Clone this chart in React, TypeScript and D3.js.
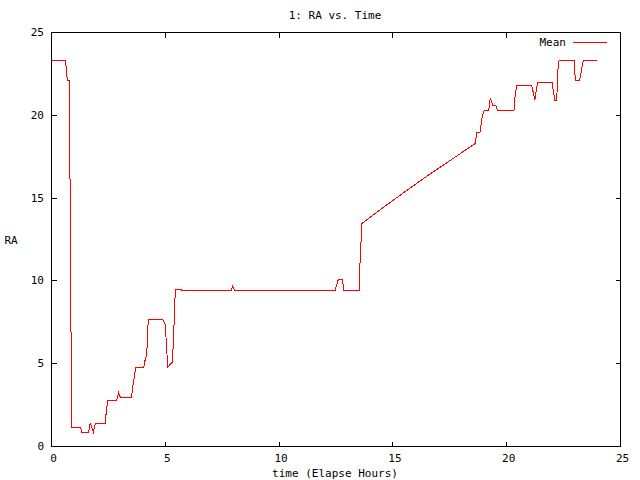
import React from "react";
import * as d3 from "d3";

const times = [
  0, 0.62, 0.67, 0.71, 0.8, 0.81, 0.86, 0.89, 1.28, 1.34, 1.63, 1.7, 1.84, 1.92, 2.36, 2.39, 2.47,
  2.86, 2.92, 2.95, 3.02, 3.51, 3.58, 3.7, 4.05, 4.11, 4.18, 4.22, 4.25, 4.89, 5.0, 5.05, 5.11,
  5.21, 5.31, 5.36, 5.44, 5.72, 5.73, 7.89, 7.96, 8.05, 12.46, 12.52, 12.6, 12.78, 12.85, 13.52,
  13.53, 13.6, 13.63, 14.8, 16.34, 18.61, 18.65, 18.68, 18.83, 18.93, 19.02, 19.21, 19.28, 19.34,
  19.38, 19.52, 19.59, 20.32, 20.35, 20.44, 21.1, 21.17, 21.24, 21.31, 21.36, 22.0, 22.05, 22.12,
  22.2, 22.24, 22.3, 22.96, 23.0, 23.03, 23.19, 23.25, 23.34, 23.37, 23.95,
];
const raValues = [
  23.3, 23.3, 22.42, 22.1, 22.1, 16.88, 6.36, 1.15, 1.15, 0.83, 0.83, 1.43, 0.85, 1.37, 1.37, 1.87,
  2.78, 2.78, 3.08, 3.24, 2.98, 2.98, 3.69, 4.76, 4.76, 5.2, 5.5, 6.59, 7.66, 7.66, 7.37, 6.1, 4.79,
  4.95, 5.09, 6.47, 9.47, 9.47, 9.41, 9.41, 9.67, 9.41, 9.41, 9.73, 10.07, 10.07, 9.41, 9.41,
  10.39, 12.39, 13.46, 14.66, 16.18, 18.29, 18.59, 18.99, 18.99, 19.96, 20.3, 20.3, 21.05, 20.8,
  20.6, 20.6, 20.3, 20.3, 20.97, 21.79, 21.79, 21.35, 20.91, 21.63, 21.99, 21.99, 21.45, 20.91,
  20.91, 22.66, 23.3, 23.3, 22.46, 22.1, 22.1, 22.42, 23.18, 23.3, 23.3,
];
const xTicks = [0, 5, 10, 15, 20, 25];
const yTicks = [0, 5, 10, 15, 20, 25];
const title = "1: RA vs. Time";
const xLabel = "time (Elapse Hours)";
const yLabel = "RA";
const seriesName = "Mean";

export default function App() {
  const W = 640, H = 480;
  const left = 51.5, right = 620.5, top = 32.5, bottom = 446.5;
  const x = d3.scaleLinear().domain([0, 25]).range([left, right]);
  const y = d3.scaleLinear().domain([0, 25]).range([bottom, top]);
  const pts: [number, number][] = times.map((t, i) => [t, raValues[i]]);
  const line = d3.line<[number, number]>().x((d) => x(d[0])).y((d) => y(d[1]));
  const font = "'DejaVu Sans Mono', 'Liberation Mono', monospace";
  const fs = 11;
  const tl = 5;
  return (
    <svg width={W} height={H} style={{ position: "fixed", left: 0, top: 0, background: "#fff" }}
      fontFamily={font} fontSize={fs}>
      <rect x={0} y={0} width={W} height={H} fill="#fff" />
      <g stroke="#000" strokeWidth={1} shapeRendering="crispEdges" fill="none">
        <rect x={left} y={top} width={right - left} height={bottom - top} />
        {xTicks.map((t) => (
          <g key={"xt" + t}>
            <line x1={x(t)} x2={x(t)} y1={bottom} y2={bottom - tl} />
            <line x1={x(t)} x2={x(t)} y1={top} y2={top + tl} />
          </g>
        ))}
        {yTicks.map((t) => (
          <g key={"yt" + t}>
            <line x1={left} x2={left + tl} y1={y(t)} y2={y(t)} />
            <line x1={right} x2={right - tl} y1={y(t)} y2={y(t)} />
          </g>
        ))}
      </g>
      {xTicks.map((t) => (
        <text key={"xl" + t} x={x(t) + 2} y={458} textAnchor="middle" dominantBaseline="central">{t}</text>
      ))}
      {yTicks.map((t) => (
        <text key={"yl" + t} x={44} y={y(t)} textAnchor="end" dominantBaseline="central">{t}</text>
      ))}
      <text x={335} y={15.5} textAnchor="middle" dominantBaseline="central">{title}</text>
      <text x={335} y={473} textAnchor="middle" dominantBaseline="central">{xLabel}</text>
      <text x={11} y={240} textAnchor="middle" dominantBaseline="central">{yLabel}</text>
      <text x={566} y={42.5} textAnchor="end" dominantBaseline="central">{seriesName}</text>
      <line x1={573} x2={607} y1={42.5} y2={42.5} stroke="#ff0000" strokeWidth={1} shapeRendering="crispEdges" />
      <path d={line(pts) || ""} fill="none" stroke="#ff0000" strokeWidth={1} shapeRendering="crispEdges" />
    </svg>
  );
}
